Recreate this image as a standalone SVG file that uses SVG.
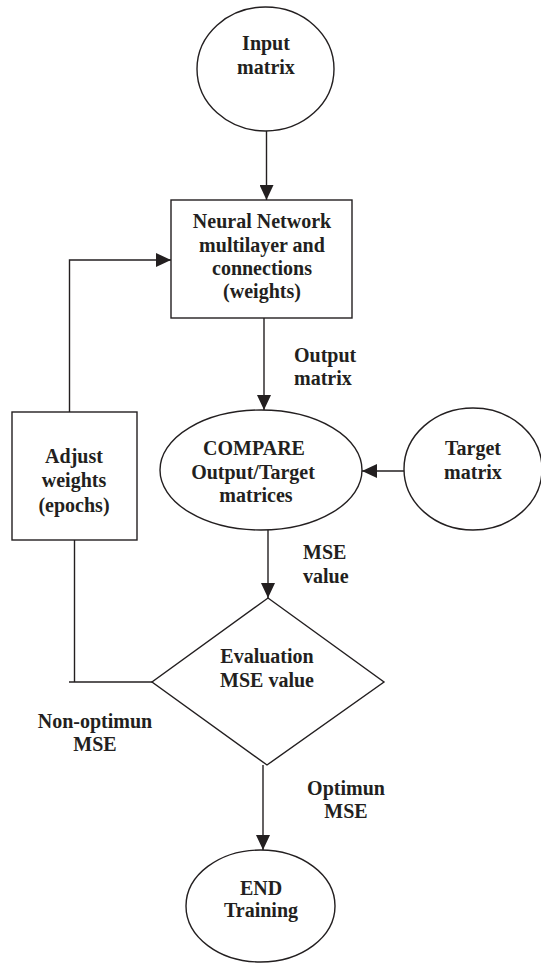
<svg xmlns="http://www.w3.org/2000/svg" width="541" height="973" viewBox="0 0 541 973">
<style>
.s{fill:#fff;stroke:#231f20;stroke-width:1.4}
.c{fill:none;stroke:#231f20;stroke-width:1.4}
text{font-family:"Liberation Serif","Times New Roman",serif;font-weight:bold;font-size:20px;fill:#231f20}
.m{text-anchor:middle}
</style>
<defs>
<marker id="ah" markerUnits="userSpaceOnUse" markerWidth="15" markerHeight="14" refX="15" refY="7" orient="auto">
<path d="M0,0 L15,7 L0,14 z" fill="#231f20"/>
</marker>
</defs>
<rect width="541" height="973" fill="#fff"/>
<g id="connectors">
<line class="c" x1="266.5" y1="131" x2="266.5" y2="200" marker-end="url(#ah)"/>
<line class="c" x1="264" y1="318" x2="264" y2="410" marker-end="url(#ah)"/>
<line class="c" x1="404" y1="471" x2="362" y2="471" marker-end="url(#ah)"/>
<line class="c" x1="268" y1="530" x2="268" y2="598" marker-end="url(#ah)"/>
<line class="c" x1="263" y1="765" x2="263" y2="850" marker-end="url(#ah)"/>
<polyline class="c" points="74.5,540 74.5,682"/>
<line class="c" x1="69" y1="682" x2="152" y2="682"/>
<polyline class="c" points="69.5,412 69.5,260 171,260" marker-end="url(#ah)"/>
</g>
<g id="input">
<ellipse class="s" cx="265.5" cy="69" rx="68.5" ry="62"/>
<text class="m" x="266" y="50">Input</text>
<text class="m" x="266" y="74">matrix</text>
</g>
<g id="network">
<rect class="s" x="171" y="200" width="181" height="118"/>
<text class="m" x="262" y="228">Neural Network</text>
<text class="m" x="262" y="252">multilayer and</text>
<text class="m" x="262" y="275">connections</text>
<text class="m" x="262" y="298">(weights)</text>
</g>
<g id="output-label">
<text x="294" y="362">Output</text>
<text x="294" y="385">matrix</text>
</g>
<g id="compare">
<ellipse class="s" cx="261" cy="470" rx="101" ry="60"/>
<text class="m" x="254" y="455">COMPARE</text>
<text class="m" x="253" y="479">Output/Target</text>
<text class="m" x="256" y="502">matrices</text>
</g>
<g id="target">
<ellipse class="s" cx="473" cy="469" rx="69" ry="61"/>
<text class="m" x="473" y="455">Target</text>
<text class="m" x="473" y="479">matrix</text>
</g>
<g id="adjust">
<rect class="s" x="12" y="412" width="125" height="128"/>
<text class="m" x="74" y="463">Adjust</text>
<text class="m" x="74" y="487">weights</text>
<text class="m" x="74" y="512">(epochs)</text>
</g>
<g id="mse-label">
<text x="303" y="559">MSE</text>
<text x="303" y="583">value</text>
</g>
<g id="evaluation">
<polygon class="s" points="268,598 384,682 267,765 152,682"/>
<text class="m" x="267" y="663">Evaluation</text>
<text class="m" x="267" y="687">MSE value</text>
</g>
<g id="nonopt-label">
<text class="m" x="95" y="728">Non-optimun</text>
<text class="m" x="95" y="751">MSE</text>
</g>
<g id="opt-label">
<text class="m" x="346" y="795">Optimun</text>
<text class="m" x="346" y="818">MSE</text>
</g>
<g id="end">
<ellipse class="s" cx="260.5" cy="906" rx="74.5" ry="56"/>
<text class="m" x="261" y="895">END</text>
<text class="m" x="261" y="917">Training</text>
</g>
</svg>
